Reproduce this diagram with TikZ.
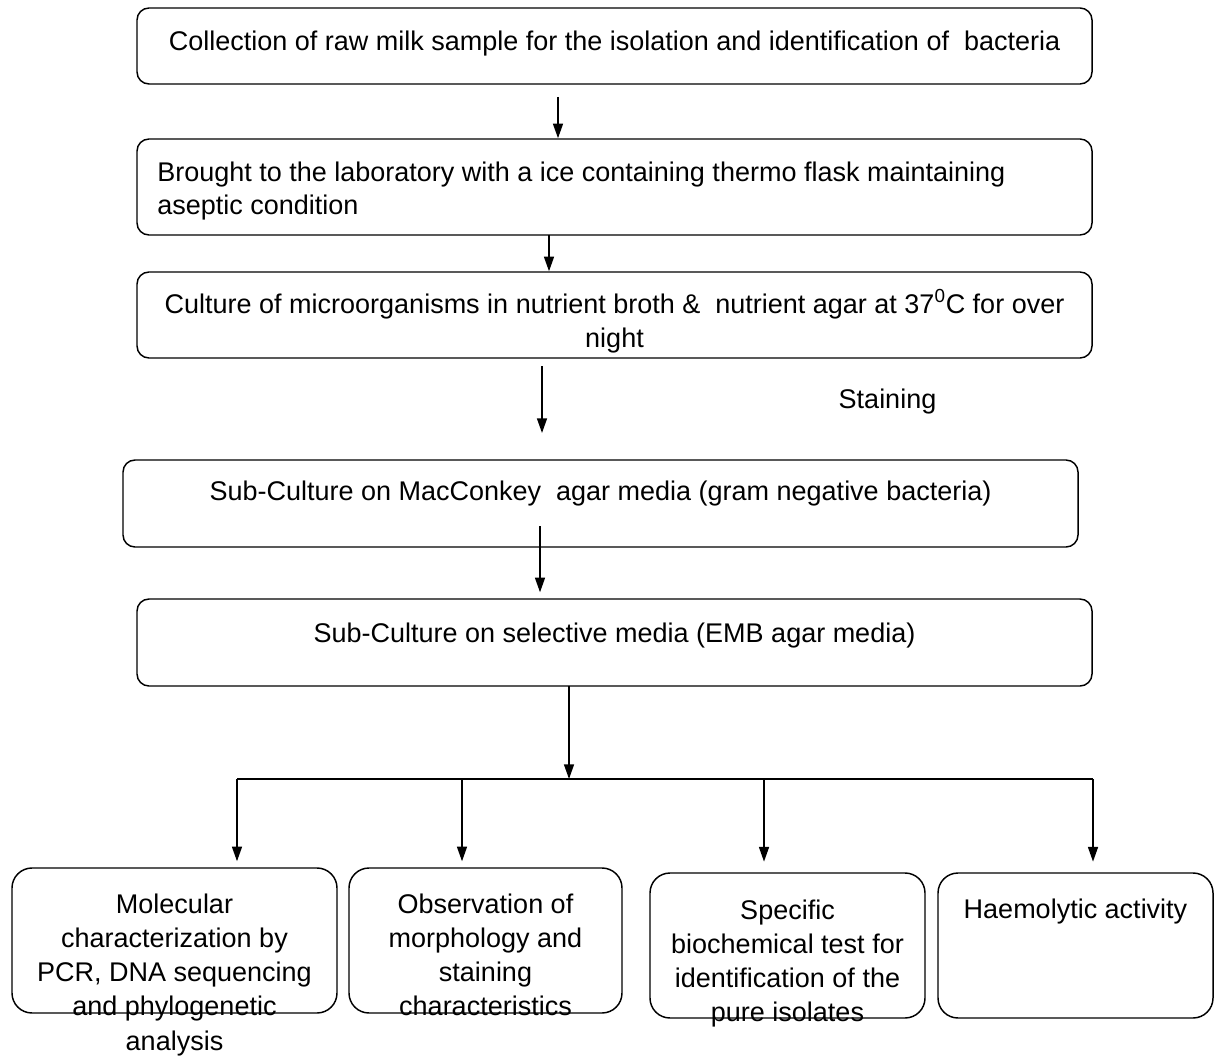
\documentclass[tikz,border=0pt]{standalone}
\usepackage{fontspec}
\setmainfont{Liberation Sans}
\usetikzlibrary{arrows.meta}
\begin{document}
\begin{tikzpicture}[x=0.75pt,y=-0.75pt,
  box/.style={draw,line width=1.1pt,rounded corners=9pt,inner sep=0pt},
  bbox/.style={box,rounded corners=15pt,minimum height=108.75pt},
  txt/.style={font=\fontsize{20.25}{25}\selectfont,inner sep=0pt,anchor=base},
  ltxt/.style={txt,anchor=base west},
  arr/.style={line width=1.1pt,-{Triangle[length=11pt,width=7.5pt]}},
  ln/.style={line width=1.1pt}]
\useasboundingbox (0,0) rectangle (1216,1059);

% boxes
\node[box,minimum width=716.25pt,minimum height=57pt] (b1) at (614.5,46) {};
\node[box,minimum width=716.25pt,minimum height=72pt] (b2) at (614.5,187) {};
\node[box,minimum width=716.25pt,minimum height=64.5pt] (b3) at (614.5,315) {};
\node[box,minimum width=716.25pt,minimum height=65.25pt] (b4) at (600.5,503.5) {};
\node[box,minimum width=716.25pt,minimum height=65.25pt] (b5) at (614.5,642.5) {};
\node[bbox,minimum width=243.75pt] (bA) at (174.5,940.5) {};
\node[bbox,minimum width=204.75pt] (bB) at (485.5,940.5) {};
\node[bbox,minimum width=206.25pt] (bC) at (787.5,945.5) {};
\node[bbox,minimum width=206.25pt] (bD) at (1075.5,945.5) {};

% texts
\node[txt] (t1) at (614.5,51) {Collection of raw milk sample for the isolation and identification of \ bacteria};
\node[ltxt] (t2a) at (157,182) {Brought to the laboratory with a ice containing thermo flask maintaining};
\node[ltxt] (t2b) at (157,215) {aseptic condition};
\node[txt] (t3a) at (614.5,313) {Culture of microorganisms in nutrient broth \& \ nutrient agar at 37\textsuperscript{0}C for over};
\node[txt] (t3b) at (614.5,347) {night};
\node[txt] (st) at (887.5,408) {Staining};
\node[txt] (t4) at (600.5,500) {Sub-Culture on MacConkey \ agar media (gram negative bacteria)};
\node[txt] (t5) at (614.5,642) {Sub-Culture on selective media (EMB agar media)};

\node[txt] (tA1) at (174.5,913) {Molecular};
\node[txt] (tA2) at (174.5,947.25) {characterization by};
\node[txt] (tA3) at (174.5,981.5) {PCR, DNA sequencing};
\node[txt] (tA4) at (174.5,1015.75) {and phylogenetic};
\node[txt] (tA5) at (174.5,1050) {analysis};

\node[txt] (tB1) at (485.5,913) {Observation of};
\node[txt] (tB2) at (485.5,947.25) {morphology and};
\node[txt] (tB3) at (485.5,981.5) {staining};
\node[txt] (tB4) at (485.5,1015.75) {characteristics};

\node[txt] (tC1) at (787.5,919) {Specific};
\node[txt] (tC2) at (787.5,953.25) {biochemical test for};
\node[txt] (tC3) at (787.5,987.5) {identification of the};
\node[txt] (tC4) at (787.5,1021.75) {pure isolates};

\node[txt] (tD1) at (1075.5,918) {Haemolytic activity};

% connector coordinates
\coordinate (s1) at (558,97);
\coordinate (s2) at (549,235);
\coordinate (s3) at (542,366);
\coordinate (e3) at (542,433);
\coordinate (s4) at (540,526);
\coordinate (s5) at (569,686);
\coordinate (hj) at (569,779);
\coordinate (hL) at (237,779);
\coordinate (hR) at (1093,779);
\coordinate (jB) at (462,779);
\coordinate (jC) at (764,779);

\draw[arr] (s1) -- (s1 |- b2.north);
\draw[arr] (s2) -- (s2 |- b3.north);
\draw[arr] (s3) -- (e3);
\draw[arr] (s4) -- ([yshift=4.5pt]s4 |- b5.north);
\draw[arr] (s5) -- (hj);
\draw[ln] (hL) -- (hR);
\draw[arr] (hL) -- ([yshift=4.5pt]hL |- bA.north);
\draw[arr] (jB) -- ([yshift=4.5pt]jB |- bB.north);
\draw[arr] (jC) -- ([yshift=8pt]jC |- bC.north);
\draw[arr] (hR) -- ([yshift=8pt]hR |- bD.north);
\end{tikzpicture}
\end{document}
